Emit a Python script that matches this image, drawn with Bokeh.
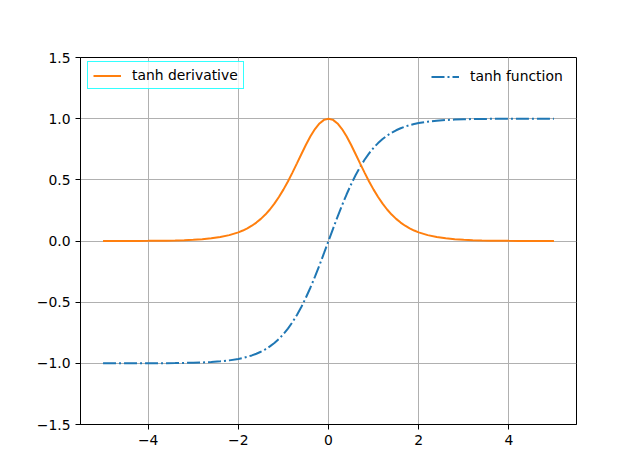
from bokeh.plotting import figure
from bokeh.models import Range1d, FixedTicker, Legend, LegendItem
from bokeh.embed import file_html
from bokeh.resources import INLINE

# sampled x values (step 0.2 outside [-2, 2], step 0.1 inside)
x_vals = [-5.0, -4.8, -4.6, -4.4, -4.2, -4.0, -3.8, -3.6, -3.4, -3.2, -3.0,
          -2.8, -2.6, -2.4, -2.2, -2.0, -1.9, -1.8, -1.7, -1.6, -1.5, -1.4, -1.3, -1.2, -1.1, -1.0,
          -0.9, -0.8, -0.7, -0.6, -0.5, -0.4, -0.3, -0.2, -0.1, 0.0,
          0.1, 0.2, 0.3, 0.4, 0.5, 0.6, 0.7, 0.8, 0.9, 1.0,
          1.1, 1.2, 1.3, 1.4, 1.5, 1.6, 1.7, 1.8, 1.9, 2.0, 2.2, 2.4, 2.6, 2.8, 3.0,
          3.2, 3.4, 3.6, 3.8, 4.0, 4.2, 4.4, 4.6, 4.8, 5.0]

tanh_vals = [-0.99991, -0.99986, -0.99980, -0.99970, -0.99955, -0.99933, -0.99900, -0.99851, -0.99777, -0.99668, -0.99505,
             -0.99263, -0.98903, -0.98367, -0.97574, -0.96403, -0.95624, -0.94681, -0.93541, -0.92167, -0.90515, -0.88535, -0.86172, -0.83365, -0.80050, -0.76159,
             -0.71630, -0.66404, -0.60437, -0.53705, -0.46212, -0.37995, -0.29131, -0.19738, -0.09967, 0.0,
             0.09967, 0.19738, 0.29131, 0.37995, 0.46212, 0.53705, 0.60437, 0.66404, 0.71630, 0.76159,
             0.80050, 0.83365, 0.86172, 0.88535, 0.90515, 0.92167, 0.93541, 0.94681, 0.95624, 0.96403, 0.97574, 0.98367, 0.98903, 0.99263, 0.99505,
             0.99668, 0.99777, 0.99851, 0.99900, 0.99933, 0.99955, 0.99970, 0.99980, 0.99986, 0.99991]

deriv_vals = [0.00018, 0.00027, 0.00040, 0.00060, 0.00090, 0.00134, 0.00200, 0.00298, 0.00445, 0.00663, 0.00987,
              0.01469, 0.02182, 0.03239, 0.04793, 0.07065, 0.08561, 0.10356, 0.12501, 0.15053, 0.18071, 0.21615, 0.25743, 0.30502, 0.35920, 0.41997,
              0.48692, 0.55906, 0.63474, 0.71158, 0.78645, 0.85564, 0.91514, 0.96104, 0.99007, 1.0,
              0.99007, 0.96104, 0.91514, 0.85564, 0.78645, 0.71158, 0.63474, 0.55906, 0.48692, 0.41997,
              0.35920, 0.30502, 0.25743, 0.21615, 0.18071, 0.15053, 0.12501, 0.10356, 0.08561, 0.07065, 0.04793, 0.03239, 0.02182, 0.01469, 0.00987,
              0.00663, 0.00445, 0.00298, 0.00200, 0.00134, 0.00090, 0.00060, 0.00040, 0.00027, 0.00018]

x_ticks = [-4, -2, 0, 2, 4]
x_tick_labels = ["\u22124", "\u22122", "0", "2", "4"]
y_ticks = [-1.5, -1.0, -0.5, 0.0, 0.5, 1.0, 1.5]
y_tick_labels = ["\u22121.5", "\u22121.0", "\u22120.5", "0.0", "0.5", "1.0", "1.5"]

FONT = "DejaVu Sans"
FS = "13.9px"

p = figure(width=640, height=476, output_backend="svg", toolbar_location=None,
           x_range=Range1d(-5.5, 5.5), y_range=Range1d(-1.5, 1.5),
           min_border_left=80, min_border_right=64, min_border_top=57, min_border_bottom=52)
p.background_fill_color = "white"
p.border_fill_color = "white"
p.outline_line_color = "black"
p.outline_line_width = 1

for ax, ticks, labels in ((p.xaxis[0], x_ticks, x_tick_labels), (p.yaxis[0], y_ticks, y_tick_labels)):
    ax.ticker = FixedTicker(ticks=ticks)
    ax.major_label_overrides = {t: l for t, l in zip(ticks, labels)}
    ax.major_tick_out = 5
    ax.major_tick_in = 0
    ax.minor_tick_line_color = None
    ax.axis_line_color = "black"
    ax.major_tick_line_color = "black"
    ax.major_label_text_font = FONT
    ax.major_label_text_font_size = FS
    ax.major_label_text_color = "black"
    ax.major_label_standoff = 5

p.xgrid.ticker = FixedTicker(ticks=x_ticks)
p.ygrid.ticker = FixedTicker(ticks=y_ticks)
p.grid.grid_line_color = "#b0b0b0"
p.grid.grid_line_width = 1

r_tanh = p.line(x_vals, tanh_vals, line_color="#1f77b4", line_width=2, line_dash="13 3 2 3")
r_der = p.line(x_vals, deriv_vals, line_color="#ff7f0e", line_width=2)

common = dict(margin=0, padding=5, spacing=0, glyph_width=28, glyph_height=15,
              label_height=15, label_standoff=11,
              label_text_font=FONT, label_text_font_size=FS, label_text_color="black")
leg1 = Legend(items=[LegendItem(label="tanh derivative", renderers=[r_der])],
              location=(7, 335),
              border_line_color="cyan", border_line_alpha=0.8, border_line_width=1,
              background_fill_color="white", background_fill_alpha=0.8, **common)
leg2 = Legend(items=[LegendItem(label="tanh function", renderers=[r_tanh])],
              location=(351, 340),
              border_line_color=None, background_fill_alpha=0, **common)
p.add_layout(leg1)
p.add_layout(leg2)

open("out.html", "w").write(file_html(p, INLINE))
